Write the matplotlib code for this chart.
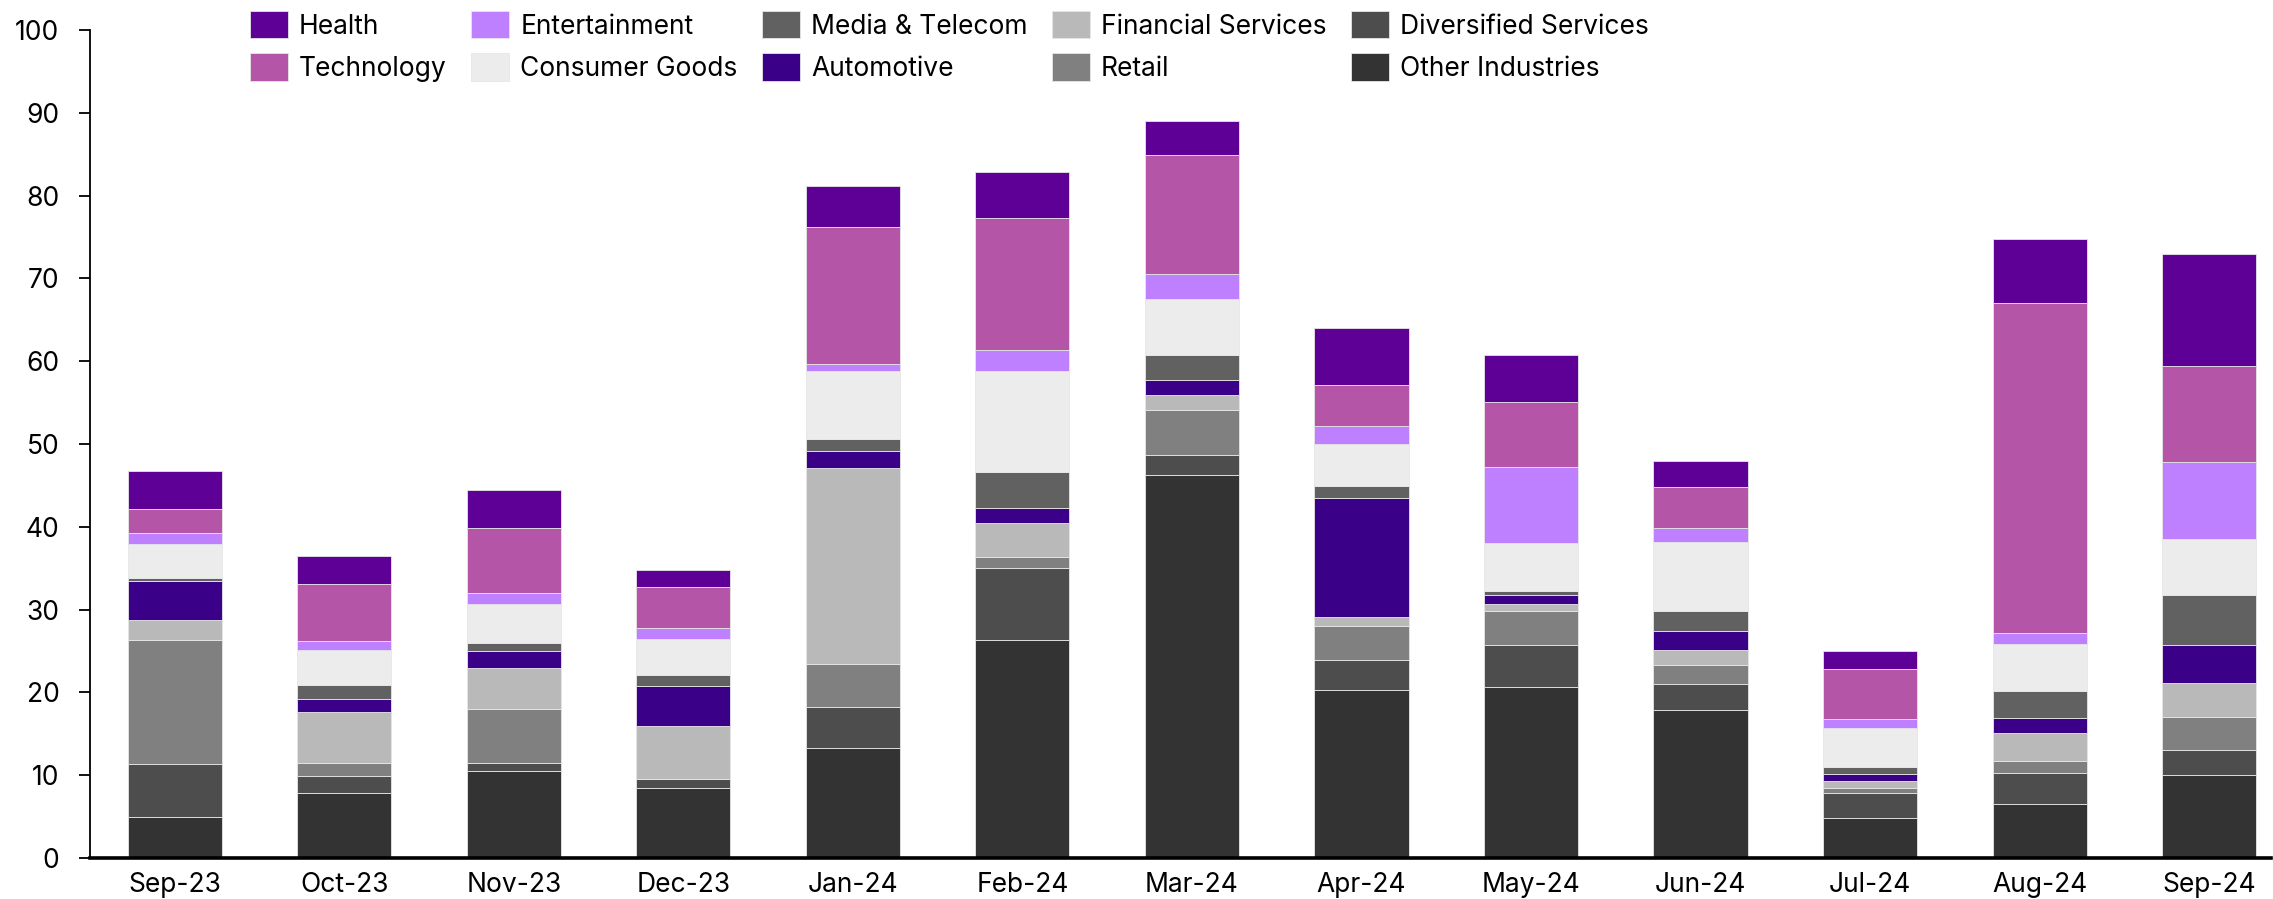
import matplotlib
matplotlib.use("Agg")
import matplotlib.pyplot as plt
import numpy as np

plt.rcParams['font.family'] = ['Inter', 'DejaVu Sans']

months = ["Sep-23", "Oct-23", "Nov-23", "Dec-23", "Jan-24", "Feb-24", "Mar-24",
          "Apr-24", "May-24", "Jun-24", "Jul-24", "Aug-24", "Sep-24"]

# Stacked from the bottom up
other_industries     = [5.0, 7.9, 10.55, 8.5, 13.3, 26.35, 46.2, 20.3, 20.6, 17.9, 4.85, 6.55, 10.0]
diversified_services = [6.3, 2.05, 0.95, 1.1, 4.9, 8.65, 2.5, 3.6, 5.1, 3.15, 3.0, 3.75, 3.05]
retail               = [15.0, 1.5, 6.5, 0.0, 5.25, 1.35, 5.4, 4.1, 4.1, 2.2, 0.55, 1.4, 4.0]
financial_services   = [2.4, 6.2, 5.0, 6.35, 23.7, 4.1, 1.85, 1.1, 0.85, 1.85, 0.95, 3.35, 4.05]
automotive           = [4.8, 1.55, 2.05, 4.85, 2.0, 1.85, 1.8, 14.4, 1.1, 2.3, 0.75, 1.9, 4.6]
media_telecom        = [0.3, 1.65, 0.9, 1.3, 1.5, 4.3, 3.0, 1.4, 0.55, 2.4, 0.9, 3.2, 6.1]
consumer_goods       = [4.1, 4.3, 4.7, 4.35, 8.2, 12.25, 6.75, 5.05, 5.7, 8.35, 4.75, 5.7, 6.7]
entertainment        = [1.4, 1.0, 1.3, 1.35, 0.8, 2.45, 3.0, 2.2, 9.2, 1.7, 1.0, 1.35, 9.35]
technology           = [2.8, 6.9, 7.85, 4.9, 16.5, 15.95, 14.45, 4.95, 7.85, 4.9, 6.05, 39.85, 11.55]
health               = [4.6, 3.4, 4.7, 2.1, 5.0, 5.65, 4.0, 6.9, 5.65, 3.2, 2.25, 7.75, 13.5]

series = [
    ("Other Industries", other_industries, "#333333"),
    ("Diversified Services", diversified_services, "#4d4d4d"),
    ("Retail", retail, "#808080"),
    ("Financial Services", financial_services, "#b9b9b9"),
    ("Automotive", automotive, "#3a0088"),
    ("Media & Telecom", media_telecom, "#616161"),
    ("Consumer Goods", consumer_goods, "#ececec"),
    ("Entertainment", entertainment, "#bf80ff"),
    ("Technology", technology, "#b455a8"),
    ("Health", health, "#5e0096"),
]

W, H = 2273, 899
fig = plt.figure(figsize=(W / 100, H / 100), dpi=100)
ax = fig.add_axes([90 / W, 41 / H, 2181 / W, 828 / H])

x = np.arange(len(months))
bottom = np.zeros(len(months))
handles = {}
for name, vals, color in series:
    vals = np.asarray(vals, dtype=float)
    bars = ax.bar(x, vals, width=0.555, bottom=bottom, color=color,
                  edgecolor="#e6e6e6", linewidth=0.6, label=name, zorder=2)
    handles[name] = bars
    bottom += vals

ax.set_xlim(-0.5, 12.365)
ax.set_ylim(0, 100)
ax.set_yticks(np.arange(0, 101, 10))
ax.set_xticks(x)
ax.set_xticklabels(months)

for s in ("top", "right"):
    ax.spines[s].set_visible(False)
ax.spines["left"].set_linewidth(1.3)
ax.spines["bottom"].set_linewidth(2.6)
ax.spines["bottom"].set_zorder(3)

ax.tick_params(axis="y", length=8, width=1.3, pad=14, labelsize=19, colors="black")
ax.tick_params(axis="x", length=0, pad=10, labelsize=19)

# Legend: top row Health..Diversified, bottom row Technology..Other
order = ["Health", "Technology", "Entertainment", "Consumer Goods",
         "Media & Telecom", "Automotive", "Financial Services", "Retail",
         "Diversified Services", "Other Industries"]
fig.legend([handles[n] for n in order], order, ncol=5, frameon=False,
           loc="upper left", bbox_to_anchor=(250 / W, 1 - 11 / H),
           fontsize=19, handlelength=1.44, handleheight=1.22,
           handletextpad=0.42, columnspacing=0.92, labelspacing=0.52,
           borderpad=0, borderaxespad=0)

fig.savefig("out.png", dpi=100, facecolor="white")
